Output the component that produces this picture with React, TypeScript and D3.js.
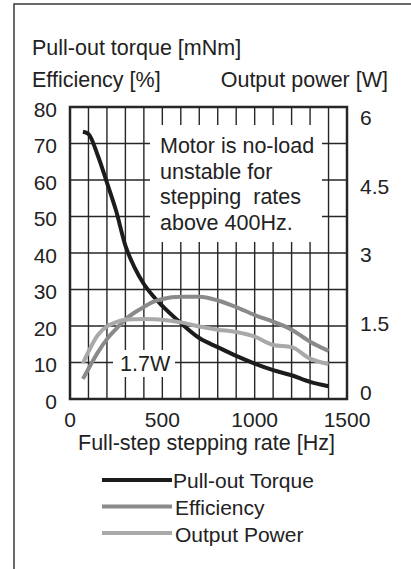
import React from 'react';
import * as d3 from 'd3';

// ---- data ----
const freqHz = [70, 100, 150, 200, 250, 300, 350, 400, 450, 500, 600, 700, 800, 900, 1000, 1100, 1200, 1300, 1400];
const torqueMNm = [73.2, 72.6, 66.8, 59.3, 51.5, 42.0, 36.0, 31.5, 28.2, 25.5, 20.8, 16.7, 14.2, 11.8, 9.7, 7.9, 6.5, 4.7, 3.5];
const efficiencyPct = [5.5, 8.3, 12.7, 16.4, 19.2, 21.8, 23.7, 25.2, 26.6, 27.4, 28.0, 28.0, 27.0, 25.2, 23.0, 21.2, 19.0, 15.7, 13.2];
const powerW = [0.735, 0.975, 1.31, 1.49, 1.58, 1.63, 1.64, 1.645, 1.64, 1.63, 1.575, 1.49, 1.425, 1.375, 1.28, 1.11, 1.065, 0.83, 0.72];

const leftTicks = [0, 10, 20, 30, 40, 50, 60, 70, 80];
const rightTicks = [0, 1.5, 3, 4.5, 6];
const xTicks = [0, 500, 1000, 1500];
const xGrid = [100, 200, 300, 400, 500, 600, 700, 800, 900, 1000, 1100, 1200, 1300, 1400];
const yGrid = [10, 20, 30, 40, 50, 60, 70];
const noteLines = ['Motor is no-load', 'unstable for', 'stepping  rates', 'above 400Hz.'];
const legendItems = ['Pull-out Torque', 'Efficiency', 'Output Power'];

const COLORS = { torque: '#1c1c1c', eff: '#8a8a8a', pow: '#a9a9a9', grid: '#262626' };
const FONT = '"Liberation Sans", Arial, sans-serif';

export default function App() {
  const L = 70, R = 347, T = 107, B = 399;
  const x = d3.scaleLinear().domain([0, 1500]).range([L, R]);
  const y = d3.scaleLinear().domain([0, 80]).range([B, T]);
  const yR = d3.scaleLinear().domain([0, 6]).range([B, T]);

  const lineL = d3.line<number>().x((_, i) => x(freqHz[i])).y((d) => y(d)).curve(d3.curveMonotoneX);
  const lineR = d3.line<number>().x((_, i) => x(freqHz[i])).y((d) => yR(d)).curve(d3.curveMonotoneX);

  const series = [
    { d: lineL(torqueMNm), c: COLORS.torque },
    { d: lineL(efficiencyPct), c: COLORS.eff },
    { d: lineR(powerW), c: COLORS.pow },
  ];
  const legendColors = [COLORS.torque, COLORS.eff, COLORS.pow];

  return (
    <svg width={411} height={569} style={{ position: 'absolute', left: 0, top: 0, background: '#fff' }}
      fontFamily={FONT} fontSize={21} fill="#222">
      {/* outer frame (left and top edges) */}
      <path d="M14,569 L14,4 L411,4" fill="none" stroke="#3a3a3a" strokeWidth={1.5} />

      <text x={32} y={55} fontSize={21.5}>Pull-out torque [mNm]</text>
      <text x={32} y={87} fontSize={21.5}>Efficiency [%]</text>
      <text x={388} y={87} fontSize={21.5} textAnchor="end">Output power [W]</text>

      {/* grid */}
      {xGrid.map((v) => (
        <line key={'gx' + v} x1={x(v)} x2={x(v)} y1={T} y2={B} stroke={COLORS.grid} strokeWidth={1.4} />
      ))}
      {yGrid.map((v) => (
        <line key={'gy' + v} x1={L} x2={R} y1={y(v)} y2={y(v)} stroke={COLORS.grid} strokeWidth={1.4} />
      ))}

      {/* note boxes */}
      <rect x={150} y={125} width={172} height={117} fill="#fff" />
      {noteLines.map((t, i) => (
        <text key={t} x={160} y={153 + i * 25.5} fontSize={21.5} style={{ whiteSpace: 'pre' }}>{t}</text>
      ))}
      <rect x={113} y={350} width={62} height={27} fill="#fff" />
      <text x={120} y={y(10) + 8} fontSize={21.5}>1.7W</text>

      {/* curves */}
      {series.map((s, i) => (
        <path key={i} d={s.d || ''} fill="none" stroke={s.c} strokeWidth={4} strokeLinejoin="round" />
      ))}

      {/* plot border */}
      <rect x={L} y={T} width={R - L} height={B - T} fill="none" stroke={COLORS.grid} strokeWidth={2.5} />

      {/* axes labels */}
      {leftTicks.map((v) => (
        <text key={'l' + v} x={57} y={y(v) + 2} textAnchor="end" dominantBaseline="central">{v}</text>
      ))}
      {rightTicks.map((v) => (
        <text key={'r' + v} x={360} y={yR(v) - 6.5 + v * 2.8} dominantBaseline="central">{v}</text>
      ))}
      {xTicks.map((v) => (
        <text key={'x' + v} x={x(v)} y={427} textAnchor="middle">{v}</text>
      ))}
      <text x={(L + R) / 2 - 2} y={450} fontSize={21.5} textAnchor="middle">Full-step stepping rate [Hz]</text>

      {/* legend */}
      {legendItems.map((t, i) => (
        <g key={t}>
          <line x1={102} x2={172} y1={480 + i * 26.5} y2={480 + i * 26.5} stroke={legendColors[i]} strokeWidth={4} />
          <text x={i === 0 ? 173 : 175} y={488 + i * 26.8}>{t}</text>
        </g>
      ))}
    </svg>
  );
}
